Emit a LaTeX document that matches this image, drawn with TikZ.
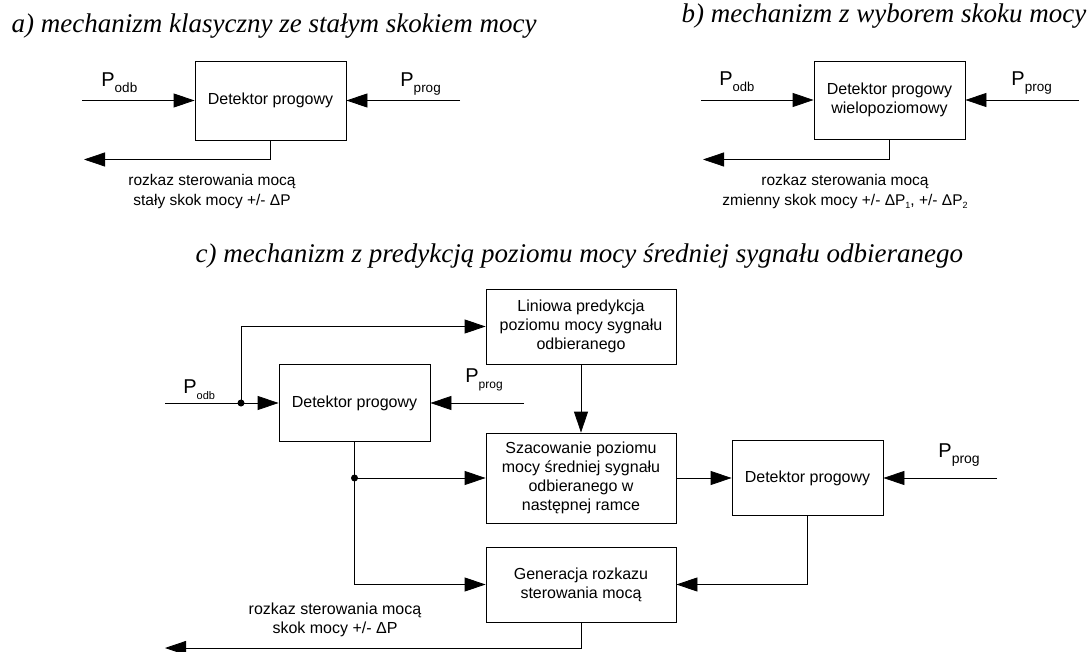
\documentclass[tikz,border=0pt]{standalone}
\usepackage{fontspec}
\setmainfont{Liberation Sans}
\newfontfamily\tytul{Liberation Serif}
\usetikzlibrary{arrows.meta}

\newcommand{\Pe}[2][13]{{\fontsize{20}{20}\selectfont P}\raisebox{-6pt}{\fontsize{#1}{#1}\selectfont #2}}
\newcommand{\ind}[1]{\raisebox{-3pt}{\fontsize{9}{9}\selectfont #1}}

\begin{document}
\begin{tikzpicture}[x=1pt, y=-1pt, line width=0.8pt,
	box/.style={draw, minimum width=151pt, minimum height=77pt, align=center,
		inner sep=2pt, font=\fontsize{16}{19}\selectfont},
	wide/.style={box, minimum width=190pt},
	arr/.style={-{Triangle[length=21pt,width=14pt]}},
	tyt/.style={anchor=base west, font=\tytul\itshape\fontsize{27}{27}\selectfont},
	lab/.style={anchor=base west, inner sep=0pt},
	opis/.style={align=center, font=\fontsize{15.5}{20}\selectfont}]
	\useasboundingbox (0,0) rectangle (1092,652);

	% a) mechanizm klasyczny
	\node[tyt] (ta) at (8,33) {a) mechanizm klasyczny ze stałym skokiem mocy};
	\node[box, minimum height=79pt] (Da) at (270.5,100.5) {Detektor progowy};
	\coordinate (ina) at (82,100.5);
	\coordinate (pra) at (460,100.5);
	\coordinate (outa) at (84,159.5);
	\draw[arr] (ina) -- (Da.west);
	\draw[arr] (pra) -- (Da.east);
	\draw[arr] (Da.south) |- (outa);
	\node[lab] (Poa) at (101,87) {\Pe[13.5]{odb}};
	\node[lab] (Ppa) at (400,87) {\Pe[13.5]{prog}};
	\node[opis] (ra) at (212,191) {rozkaz sterowania mocą\\stały skok mocy +/- ΔP};

	% b) mechanizm z wyborem skoku
	\node[tyt] (tb) at (678,23) {b) mechanizm z wyborem skoku mocy};
	\node[box, minimum height=78pt] (Db) at (889.5,100) {Detektor progowy\\wielopoziomowy};
	\coordinate (inb) at (701,100);
	\coordinate (prb) at (1079,100);
	\coordinate (outb) at (703,159.5);
	\draw[arr] (inb) -- (Db.west);
	\draw[arr] (prb) -- (Db.east);
	\draw[arr] (Db.south) |- (outb);
	\node[lab] (Pob) at (719,86) {\Pe{odb}};
	\node[lab] (Ppb) at (1011,86) {\Pe[13.5]{prog}};
	\node[opis] (rb) at (845,191) {rozkaz sterowania mocą\\zmienny skok mocy +/- ΔP\ind{1}, +/- ΔP\ind{2}};

	% c) mechanizm z predykcja
	\node[tyt] (tc) at (192,263) {c) mechanizm z predykcją poziomu mocy średniej sygnału odbieranego};
	\node[wide, minimum height=75pt] (L) at (581,326.5) {Liniowa predykcja\\poziomu mocy sygnału\\odbieranego};
	\node[box] (Dc) at (354.5,403) {Detektor progowy};
	\node[wide, minimum height=90pt] (Sz) at (581,478) {Szacowanie poziomu\\mocy średniej sygnału\\odbieranego w\\następnej ramce};
	\node[box, minimum height=75pt] (Dk) at (807.5,478) {Detektor progowy};
	\node[wide, minimum height=75pt] (G) at (581,584.5) {Generacja rozkazu\\sterowania mocą};
	\coordinate (inc) at (165,403);
	\coordinate (j1) at (241,403);
	\coordinate (prc) at (524,403);
	\coordinate (prk) at (997,478);
	\coordinate (j2) at (Dc.south |- Sz.west);
	\coordinate (outc) at (165,648);
	\draw[arr] (inc) -- (Dc.west);
	\draw[arr] (j1) |- (L.west);
	\fill (j1) circle (3.5);
	\draw[arr] (prc) -- (Dc.east);
	\draw[arr] (L.south) -- (Sz.north);
	\draw[arr] (Dc.south) |- (G.west);
	\draw[arr] (j2) -- (Sz.west);
	\fill (j2) circle (3.5);
	\draw[arr] (Sz.east) -- (Dk.west);
	\draw[arr] (prk) -- (Dk.east);
	\draw[arr] (Dk.south) |- (G.east);
	\draw[arr] (G.south) |- (outc);
	\node[lab] (Poc) at (183,393) {\Pe[11]{odb}};
	\node[lab] (Ppc) at (465,382) {\Pe[12]{prog}};
	\node[lab] (Ppk) at (938,457) {\Pe[14]{prog}};
	\node[opis, font=\fontsize{16}{19}\selectfont] (rc) at (335,619.5) {rozkaz sterowania mocą\\skok mocy +/- ΔP};
\end{tikzpicture}
\end{document}
